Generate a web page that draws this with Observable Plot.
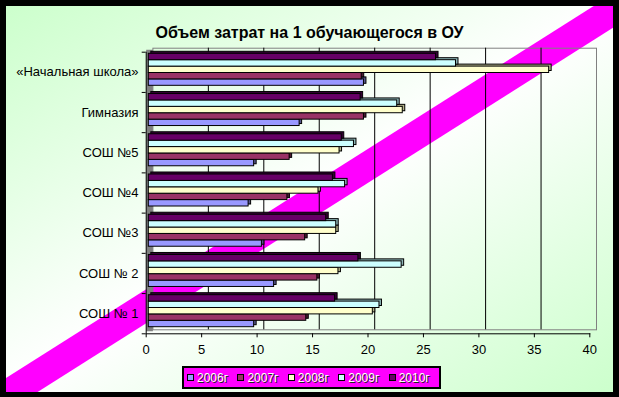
<!DOCTYPE html>
<html><head><meta charset="utf-8">
<script src="https://cdn.jsdelivr.net/npm/d3@7"></script>
<script src="https://cdn.jsdelivr.net/npm/@observablehq/plot@0.6"></script>
<style>
html,body{margin:0;padding:0;background:#000;}
#chart{position:relative;width:619px;height:397px;background:#000;overflow:hidden;font-family:"Liberation Sans",Arial,sans-serif;}
#inner{position:absolute;left:6px;top:6px;width:607px;height:386px;background:linear-gradient(to bottom right,#ccffcc 0%,#ffffff 50%,#ccffcc 100%);overflow:hidden;}
#stripe{position:absolute;left:0;top:0;}
#title{position:absolute;left:0;width:619px;top:25px;line-height:16px;text-align:center;font-weight:bold;font-size:16px;color:#000;white-space:nowrap;}
.layer{position:absolute;left:0;top:0;}
#legend{position:absolute;left:182px;top:366px;width:252px;height:19px;background:#ff00ff;border:2px solid #000;display:flex;align-items:center;padding-left:3px;box-sizing:content-box;}
.item{display:flex;align-items:center;width:51px;}
.sw{width:5px;height:5px;border:1px solid #000;margin-right:3px;}
.lt{font-size:12px;color:#fff;text-shadow:1px 1px 0 #222;line-height:12px;}
</style></head>
<body>
<div id="chart">
  <div id="inner">
    <svg id="stripe" width="607" height="386"><polygon points="0,372 607,-12.2 607,21.8 0,406" fill="#ff00ff"/></svg>
  </div>
  <div id="title">Объем затрат на 1 обучающегося в ОУ</div>
  <div id="under" class="layer"></div>
  <div id="over" class="layer"></div>
  <div id="legend"></div>
</div>
<script>
const schools = ["«Начальная школа»", "Гимназия", "СОШ №5", "СОШ №4", "СОШ №3", "СОШ № 2", "СОШ № 1"];
const years = ["2006г", "2007г", "2008г", "2009г", "2010г"];
const v2006 = [19.4, 13.6, 9.5, 9.0, 10.2, 11.3, 9.5];
const v2007 = [19.2, 19.4, 12.7, 12.5, 14.1, 15.2, 14.2];
const v2008 = [36.1, 22.9, 17.2, 15.3, 16.9, 17.1, 20.2];
const v2009 = [27.7, 22.4, 18.5, 17.7, 16.9, 22.8, 20.8];
const v2010 = [25.9, 19.1, 17.4, 16.6, 16.0, 18.9, 16.8];
const xTicks = [0, 5, 10, 15, 20, 25, 30, 35, 40];
const gridTicks = [5, 10, 15, 20, 25, 30, 35];
const colors = ["#9999ff", "#993366", "#ffffcc", "#ccffff", "#660066"];
const sideColors = ["#55558a", "#4d1a33", "#b3b38a", "#8ab3b3", "#330033"];

const series = [v2006, v2007, v2008, v2009, v2010];
const rows = [];
schools.forEach((s, i) => years.forEach((y, j) => rows.push({school: s, year: y, value: series[j][i]})));
const colorOf = Object.fromEntries(years.map((y, j) => [y, colors[j]]));
const sideOf = Object.fromEntries(years.map((y, j) => [y, sideColors[j]]));

const W = 619, H = 362;
const font = {background: "transparent", fontFamily: "Liberation Sans, Arial, sans-serif", fontSize: "13px", color: "#000", overflow: "visible"};

// underlay: walls, grid, axes (front plane)
const uTop = 51.7, uBottom = 28.7;
const step = d3.scaleBand().domain(schools).range([uTop, H - uBottom]).step();
const under = Plot.plot({
  width: W, height: H,
  marginLeft: 145.7, marginRight: 29.7, marginTop: uTop, marginBottom: uBottom,
  style: font,
  x: {domain: [0, 40], axis: null},
  y: {domain: schools, type: "band", padding: 0, round: false, axis: null},
  marks: [
    Plot.frame({stroke: "#808080", dx: 6.7, dy: -4}),
    Plot.ruleX(gridTicks, {stroke: "#000", dx: 6.7, dy: -4}),
    Plot.ruleX([0], {stroke: "#808080", strokeWidth: 6.7, dx: 3.35, dy: -2}),
    Plot.ruleX([0], {stroke: "#000"}),
    Plot.frame({anchor: "bottom", stroke: "#000"}),
    Plot.axisX({ticks: xTicks, tickSize: 4, tickPadding: 7, fontSize: 13, label: null}),
    Plot.axisY({tickSize: 0, tickPadding: 7.7, fontSize: 13, label: null}),
    Plot.axisY({tickSize: 4, tickFormat: () => "", dy: -step / 2, label: null}),
    Plot.axisY({ticks: [schools[schools.length - 1]], tickSize: 4, tickFormat: () => "", dy: step / 2, label: null})
  ]
});
document.getElementById("under").appendChild(under);

// overlay: bars (mid depth)
const over = Plot.plot({
  width: W, height: H,
  marginLeft: 148.3, marginRight: 27.1, marginTop: 53.3, marginBottom: 35.3,
  style: font,
  x: {domain: [0, 40], axis: null},
  y: {domain: years.slice().reverse(), padding: 0, round: false, axis: null},
  fy: {domain: schools, paddingInner: 0.2046, paddingOuter: 0, round: false, axis: null},
  marks: [
    Plot.barX(rows, {x: "value", y: "year", fy: "school", fill: d => sideOf[d.year], stroke: "#000", strokeWidth: 1, dx: 2.5, dy: -2}),
    Plot.barX(rows, {x: "value", y: "year", fy: "school", fill: d => colorOf[d.year], stroke: "#000", strokeWidth: 1})
  ]
});
document.getElementById("over").appendChild(over);

// legend
const lg = document.getElementById("legend");
years.forEach((y, j) => {
  const it = document.createElement("div"); it.className = "item";
  const sw = document.createElement("div"); sw.className = "sw"; sw.style.background = colors[j];
  const t = document.createElement("span"); t.className = "lt"; t.textContent = y;
  it.appendChild(sw); it.appendChild(t); lg.appendChild(it);
});
</script>
</body></html>
